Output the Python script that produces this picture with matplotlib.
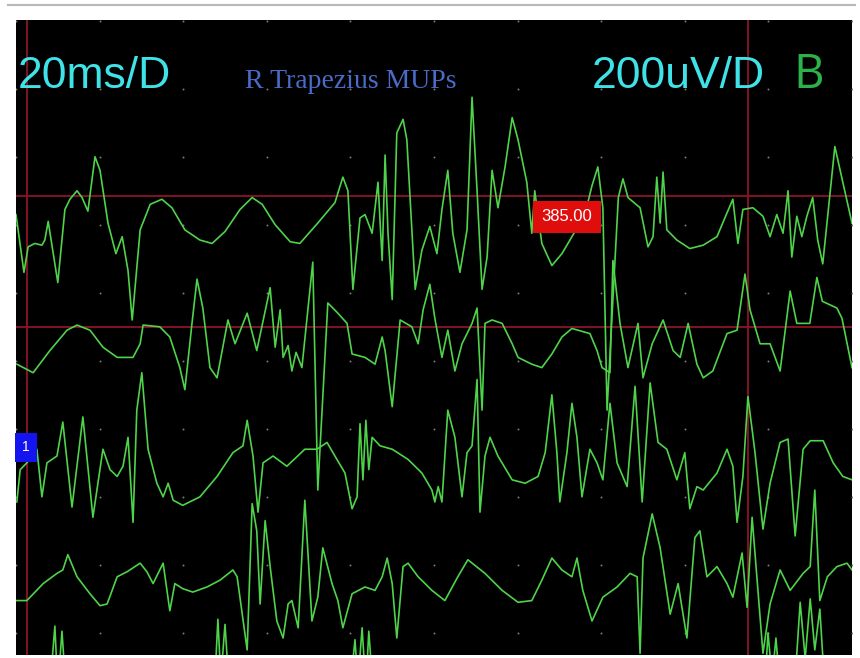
import numpy as np
import matplotlib
matplotlib.use("Agg")
import matplotlib.pyplot as plt
from matplotlib.lines import Line2D

# Screen scale: 20 ms/div horizontally, 200 uV/div vertically
ms_per_div = 20
uv_per_div = 200
screen_ms = 200
screen_uv = 1867

# Trace baselines (uV above bottom of screen)
offsets = [1220, 910, 560, 190, -130]

# Trace 1 (time ms, amplitude uV)
t1 = [0, 1.9, 2.9, 4.5, 6.2, 6.9, 7.7, 10.0, 11.7, 12.9, 14.6, 15.8, 17.2, 18.9, 20.1, 22.0,
      23.9, 25.4, 26.8, 27.8, 29.7, 32.1, 34.9, 37.3, 40.4, 44.0, 46.9, 50.0, 53.6, 56.5, 58.9,
      62.0, 65.6, 67.9, 72.2, 76.3, 78.2, 79.4, 80.6, 82.3, 83.5, 85.2, 86.6, 87.6, 88.3, 89.0,
      90.0, 91.1, 92.6, 93.5, 95.5, 97.1, 99.0, 100.7, 101.9, 103.3, 104.5, 106.2, 107.9, 109.1,
      110.3, 111.5, 112.7, 113.9, 115.3, 117.0, 118.7, 120.1, 122.2, 123.4, 124.1, 125.8, 128.2,
      130.6, 133.0, 136.1, 137.8, 139.2, 140.4, 141.4, 142.8, 144.1, 145.2, 146.4, 149.3, 151.2,
      152.4, 153.3, 154.1, 154.8, 155.7, 158.1, 161.2, 164.4, 167.7, 170.1, 171.5, 172.7, 173.9,
      176.3, 178.7, 180.4, 182.0, 183.5, 184.7, 185.6, 186.8, 188.0, 189.2, 190.6, 191.8, 193.0,
      195.9, 197.8, 200]
a1 = [75, -95, -20, -10, -15, 0, 55, -125, 90, 120, 145, 125, 85, 245, 205, 50,
      -40, 10, -90, -235, 30, 105, 120, 95, 30, 0, -10, 25, 90, 125, 105,
      45, -5, -10, 50, 110, 185, 145, -145, 65, 75, 20, 170, -60, 250, 20,
      -175, 315, 355, 295, -145, -30, 40, -40, 90, 205, 20, -95, 30, 420,
      145, -145, -50, 205, 95, 215, 360, 295, 170, 20, 145, -10, -75,
      -40, 10, 75, 160, 215, 95, -500, -175, 125, 180, 125, 95, -20,
      10, 185, 50, 200, 30, 0, -25, -15, 10, 80, 120, -10, 90,
      95, 70, 10, 75, 20, 145, -50, 70, 10, 70, 125, 0, -70,
      275, 170, 50]

# Trace 2
t2 = [0.2, 4.1, 8.1, 12.2, 14.6, 17.7, 20.8, 24.2, 28.0, 29.7, 30.4, 34.4, 36.8, 39.2, 40.4,
      42.1, 43.3, 44.7, 46.4, 48.1, 50.7, 52.4, 55.3, 57.6, 60.8, 62.0, 63.2, 63.9, 65.1, 66.0,
      67.0, 68.4, 71.0, 72.2, 74.6, 77.0, 79.2, 80.4, 83.5, 85.9, 87.6, 88.3, 90.0, 91.9, 94.7,
      96.2, 97.4, 99.0, 100.2, 101.9, 103.3, 105.0, 106.7, 109.1, 110.3, 111.5, 112.2, 113.9,
      116.3, 118.7, 120.1, 123.4, 125.8, 128.2, 130.6, 133.0, 137.3, 139.0, 140.2, 142.1, 142.8,
      144.5, 146.4, 148.8, 150.0, 152.2, 154.8, 157.2, 158.9, 160.8, 162.9, 164.4, 166.7, 170.1,
      172.5, 174.4, 175.6, 178.0, 180.4, 182.8, 185.2, 186.8, 189.9, 191.6, 192.9, 196.4, 197.6,
      200]
a2 = [-55, -80, -15, 45, 60, 45, -5, -35, -35, 5, 60, 55, 25, -65, -130,
      65, 195, 110, -65, -95, 75, 5, 95, -15, 170, -5, 105, -35, 0, -75,
      -20, -65, 245, -425, 125, 95, 65, -25, -35, -55, 25, -15, -180, 75, 55,
      5, 105, 180, 80, -35, 45, -75, 5, 65, 110, -190, 65, 75,
      65, 5, -35, -55, -65, -25, 25, 50, 35, -15, -65, -80, 250,
      65, -65, 65, -95, 5, 75, -15, -35, 65, -55, -95, -75, 35,
      45, 210, 105, 5, 5, -75, 160, 65, 65, 200, 130, 110, 80,
      -65]

# Trace 3
t3 = [0.2, 1.0, 2.6, 5.0, 6.2, 7.4, 9.8, 11.2, 13.4, 16.0, 18.4, 20.8, 22.5, 24.2, 25.6, 26.8,
      28.0, 28.9, 30.1, 31.6, 33.7, 35.2, 36.4, 37.6, 39.9, 44.0, 48.1, 51.9, 54.3, 55.3, 56.7,
      57.9, 59.1, 61.5, 64.8, 69.1, 72.0, 74.4, 76.3, 78.7, 80.4, 81.6, 82.3, 83.0, 83.7, 84.4,
      85.2, 87.1, 90.0, 93.8, 97.1, 99.5, 100.2, 101.0, 101.9, 103.3, 105.0, 106.7, 107.9, 109.1,
      110.3, 111.0, 112.2, 113.4, 115.3, 118.7, 121.8, 124.9, 126.6, 128.2, 129.4, 130.1, 131.8,
      133.0, 134.2, 135.4, 137.3, 139.0, 140.4, 142.1, 143.8, 146.2, 148.1, 149.8, 151.7, 153.6,
      155.7, 158.1, 160.0, 161.2, 162.9, 164.4, 167.7, 170.1, 171.5, 172.5, 173.9, 175.1, 176.8,
      178.7, 180.4, 182.8, 184.7, 186.4, 188.3, 190.0, 193.1, 195.5, 197.8, 200]
a3 = [-110, -15, 5, 45, -95, 5, 25, 125, -125, 140, -155, 45, -15, -35, -5, 80,
      -170, 160, 270, 45, -55, -95, -55, -105, -120, -95, -35, 35, 55, 130, 25,
      -140, 5, 25, -5, 45, 45, 65, 25, -25, -130, -95, 120, -45, 130, -15,
      80, 55, 45, 15, -25, -75, -110, -65, -110, 160, 80, -95, 35, 55,
      250, -140, 25, 80, 25, -45, -55, -35, 35, 205, 35, -110, 35,
      180, 80, -95, 45, 5, -45, 180, 5, -65, 230, -110, 240, 65,
      45, -45, 35, -130, -65, -75, -25, 45, -5, -170, -35, 200, 35,
      -190, -55, 65, 75, -210, 45, 70, 70, 5, -35, -45]

# Trace 4
t4 = [0.2, 2.6, 6.5, 9.8, 11.2, 12.4, 14.6, 17.7, 20.1, 21.8, 24.2, 26.6, 29.7, 31.3, 32.8,
      35.2, 36.8, 38.0, 39.9, 42.3, 45.7, 48.8, 51.9, 52.9, 55.3, 56.5, 57.6, 58.4, 59.6, 60.8,
      62.4, 63.9, 65.1, 66.0, 67.5, 69.1, 70.8, 72.2, 73.4, 75.6, 77.0, 78.2, 80.4, 83.5, 85.9,
      87.6, 88.8, 90.0, 91.1, 92.6, 93.8, 96.2, 99.5, 102.6, 105.7, 108.1, 112.2, 116.3, 120.1,
      123.4, 125.8, 128.2, 130.6, 133.0, 134.2, 135.6, 137.8, 140.4, 143.8, 146.9, 148.6, 149.3,
      150.0, 152.2, 154.1, 156.5, 158.4, 160.5, 162.4, 163.6, 165.3, 167.7, 170.1, 171.5, 173.7,
      174.9, 176.1, 178.7, 180.4, 182.8, 185.2, 188.3, 190.0, 191.1, 192.3, 194.1, 196.4, 198.8,
      200]
a4 = [-30, -30, 20, 50, 60, 105, 40, -10, -45, -40, 40, 55, 80, 55, 20,
      80, -60, 20, 5, -5, 10, 30, 60, 40, -175, 255, 175, -40, 205, 70,
      -90, -140, -40, -30, -110, 265, -90, -20, 125, 20, -30, -110, -10, 10, 0,
      40, 95, 20, -140, 70, 80, 40, 0, -30, 40, 90, 50, 0, -35,
      -30, 30, 95, 60, 40, 95, 0, -90, -20, 10, 50, 40, -185,
      95, 225, 125, -70, 20, -140, 155, 175, 40, 70, 20, -20, 110,
      -50, 215, -185, -40, 60, 0, 50, 70, 295, -30, 40, 70, 80,
      60]

# Trace 5 (mostly below the screen)
t5 = [0, 8.1, 9.3, 10.0, 11.0, 12.0, 24.9, 39.2, 47.6, 48.3, 49.0, 50.0, 51.0, 67.9, 79.9,
      81.1, 81.8, 82.8, 83.7, 84.4, 85.4, 103.8, 130.1, 151.7, 163.6, 179.2, 179.9, 180.9, 181.8,
      182.8, 186.4, 187.6, 188.8, 190.0, 191.1, 192.3, 193.5, 200]
a5 = [0, 30, 215, 30, 200, 15, 0, 30, 60, 235, 60, 220, 30, 0, 30,
      175, 45, 210, 30, 200, 30, 0, 0, 15, 30, 45, 195, 60, 180,
      30, 60, 285, 120, 295, 145, 265, 30, 0]

traces = [(t1, a1), (t2, a2), (t3, a3), (t4, a4), (t5, a5)]

# cursors
cursor_ms = [2.6, 175.1]
cursor_uv = [1350, 964]
cursor_value = "385.00"

fig = plt.figure(figsize=(8.6, 6.58), dpi=100)
fig.patch.set_facecolor("white")
fig.add_artist(Line2D([8 / 860, 855 / 860], [653 / 658, 653 / 658], color="#b8b8b8", lw=1.5))

ax = fig.add_axes([16 / 860, 3 / 658, 836 / 860, 635 / 658])
ax.set_facecolor("black")
ax.set_xlim(0, screen_ms)
ax.set_ylim(0, screen_uv)
ax.set_xticks([])
ax.set_yticks([])
for s in ax.spines.values():
    s.set_visible(False)

# graticule dots
gx, gy = np.meshgrid(np.arange(0, screen_ms + 1, ms_per_div), np.arange(64, screen_uv, uv_per_div))
ax.scatter(gx.ravel(), gy.ravel(), s=2, color="#7a7a7a", lw=0, zorder=1)

for x in cursor_ms:
    ax.axvline(x, color="#8c1426", lw=1.3, zorder=2)
for y in cursor_uv:
    ax.axhline(y, color="#8c1426", lw=1.3, zorder=2)

for (t, a), off in zip(traces, offsets):
    ax.plot(t, np.array(a) + off, color="#4fd34a", lw=1.2, zorder=3, solid_joinstyle="round")

sans = ["Liberation Sans", "DejaVu Sans"]
ax.text(0.5, 1667, "20ms/D", color="#3fe2e6", fontsize=32, family=sans, va="baseline", zorder=5)
ax.text(137.8, 1667, "200uV/D", color="#3fe2e6", fontsize=32, family=sans, va="baseline", zorder=5)
ax.text(185.9, 1667, "B", color="#2bb34a", fontsize=34, family=["Open Sans", "DejaVu Sans"],
        va="baseline", zorder=5)
ax.text(54.8, 1667, "R Trapezius MUPs", color="#4a6cc8", fontsize=20, family=["Liberation Serif"],
        va="baseline", zorder=5)

ax.text(131.8, 1288, cursor_value, color="white", fontsize=12, family=sans, ha="center", va="center",
        zorder=6, bbox=dict(boxstyle="square,pad=0.5", fc="#e00d0d", ec="none"))
ax.text(2.4, 611, "1", color="white", fontsize=10, family=sans, ha="center", va="center",
        zorder=6, bbox=dict(boxstyle="square,pad=0.55", fc="#1414f0", ec="none"))

fig.savefig("out.png", dpi=100, facecolor="white")
